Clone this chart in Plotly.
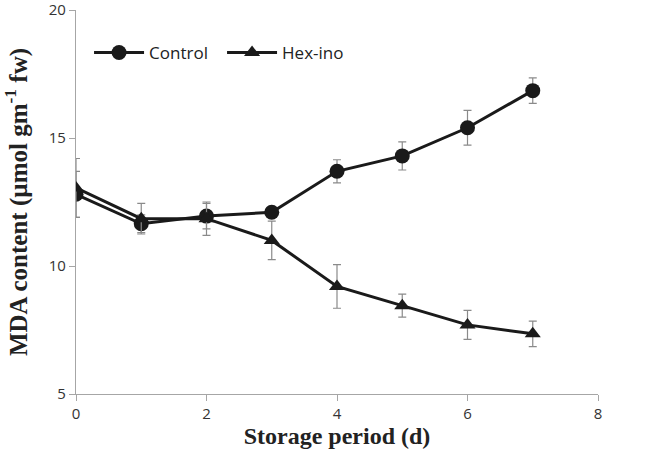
import plotly.graph_objects as go

days = [0, 1, 2, 3, 4, 5, 6, 7]
control = [12.8, 11.65, 11.95, 12.1, 13.7, 14.3, 15.4, 16.85]
control_err = [0.9, 0.35, 0.5, 0.2, 0.45, 0.55, 0.68, 0.5]
hexino = [13.05, 11.85, 11.85, 11.0, 9.2, 8.45, 7.7, 7.35]
hexino_err = [1.15, 0.6, 0.65, 0.75, 0.85, 0.45, 0.57, 0.5]

x_ticks = [0, 2, 4, 6, 8]
y_ticks = [5, 10, 15, 20]

err_style = dict(type="data", visible=True, color="#8a8a8a", thickness=1.2, width=4)

fig = go.Figure()
fig.add_trace(go.Scatter(
    x=days, y=control, name="Control", mode="lines+markers",
    line=dict(color="#1a1a1a", width=3),
    marker=dict(symbol="circle", size=15, color="#1a1a1a"),
    error_y=dict(array=control_err, **err_style),
))
fig.add_trace(go.Scatter(
    x=days, y=hexino, name="Hex-ino", mode="lines+markers",
    line=dict(color="#1a1a1a", width=3),
    marker=dict(symbol="triangle-up", size=14, color="#1a1a1a"),
    error_y=dict(array=hexino_err, **err_style),
))

axis_common = dict(
    showline=True, linecolor="#a6a6a6", linewidth=1.3,
    ticks="outside", tickcolor="#a6a6a6", ticklen=6, tickwidth=1.3,
    showgrid=False, zeroline=False, automargin=False, ticklabeloverflow="allow",
    tickfont=dict(family="Open Sans, sans-serif", size=15, color="#333333"),
)

fig.update_layout(
    width=666, height=460,
    margin=dict(l=76, r=68, t=10, b=66),
    paper_bgcolor="white", plot_bgcolor="white",
    xaxis=dict(range=[0, 8], tickvals=x_ticks, **axis_common,
               title=dict(text="Storage period (d)", standoff=2,
                          font=dict(family="Liberation Serif, Times New Roman, serif", size=24,
                                    color="#222222", weight="bold"))),
    yaxis=dict(range=[5, 20], tickvals=y_ticks, **axis_common,
               title=dict(text="MDA content (µmol gm<sup>-1</sup> fw)", standoff=14,
                          font=dict(family="Liberation Serif, Times New Roman, serif", size=25,
                                    color="#222222", weight="bold"))),
    legend=dict(orientation="h", x=0.025, y=0.935, xanchor="left", yanchor="top",
                font=dict(family="Open Sans, sans-serif", size=17, color="#222222"),
                bgcolor="rgba(0,0,0,0)", itemwidth=50, entrywidth=68, entrywidthmode="pixels"),
    showlegend=True,
)

fig.write_html("out.html", config={"displayModeBar": False},
               post_script="document.body.style.margin='0';")
